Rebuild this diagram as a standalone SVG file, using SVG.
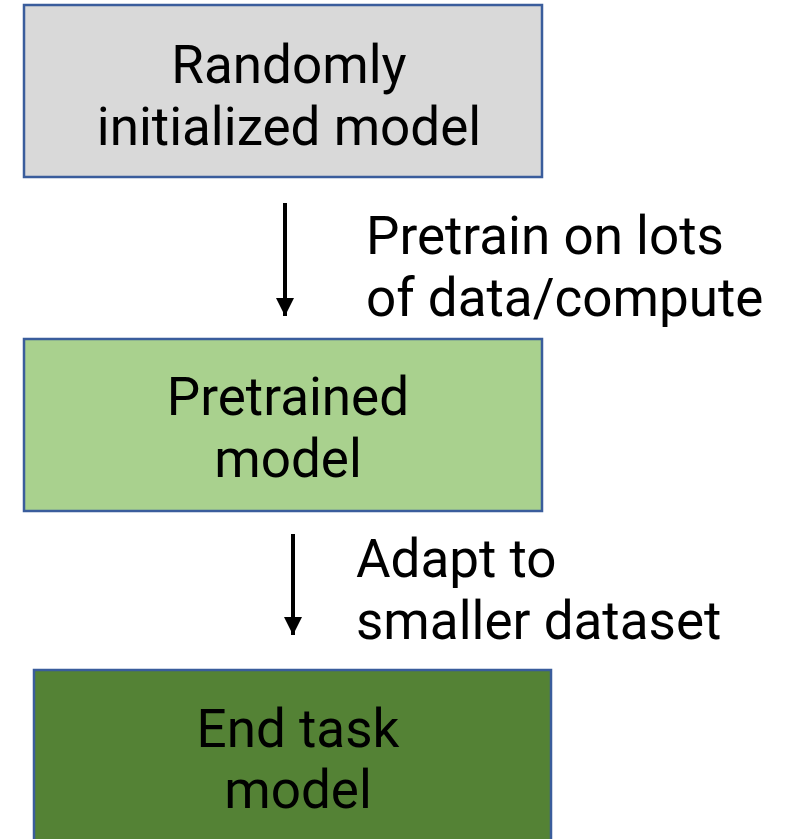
<svg xmlns="http://www.w3.org/2000/svg" width="791" height="839" viewBox="0 0 791 839">
<style>
  text { font-family: Roboto, "Liberation Sans", sans-serif; font-size: 53px; fill: #000; }
  .node text { text-anchor: middle; }
  .box { stroke: #3a5d9c; stroke-width: 2.5; }
  .conn line { stroke: #000; stroke-width: 4; }
</style>
<defs>
  <marker id="ah" markerUnits="userSpaceOnUse" markerWidth="20" markerHeight="18" refX="18" refY="9" orient="auto">
    <path d="M0,0 L18,9 L0,18 Z" fill="#000"/>
  </marker>
</defs>
<g id="n1" class="node">
  <rect class="box" x="24" y="5" width="518" height="172" fill="#d9d9d9"/>
  <text x="289" y="83">Randomly</text>
  <text x="289" y="145">initialized model</text>
</g>
<g id="n2" class="node">
  <rect class="box" x="24" y="339" width="518" height="172" fill="#a9d18e"/>
  <text x="288" y="415">Pretrained</text>
  <text x="288" y="477">model</text>
</g>
<g id="n3" class="node">
  <rect class="box" x="34" y="670" width="517" height="180" fill="#548235"/>
  <text x="298" y="747">End task</text>
  <text x="298" y="808">model</text>
</g>
<g id="connectors" class="conn">
  <line x1="285" y1="203" x2="285" y2="316" marker-end="url(#ah)"/>
  <line x1="293" y1="534" x2="293" y2="635" marker-end="url(#ah)"/>
</g>
<g id="labels">
  <text x="366" y="254">Pretrain on lots</text>
  <text x="366" y="316">of data/compute</text>
  <text x="356" y="577">Adapt to</text>
  <text x="356" y="639">smaller dataset</text>
</g>
</svg>
